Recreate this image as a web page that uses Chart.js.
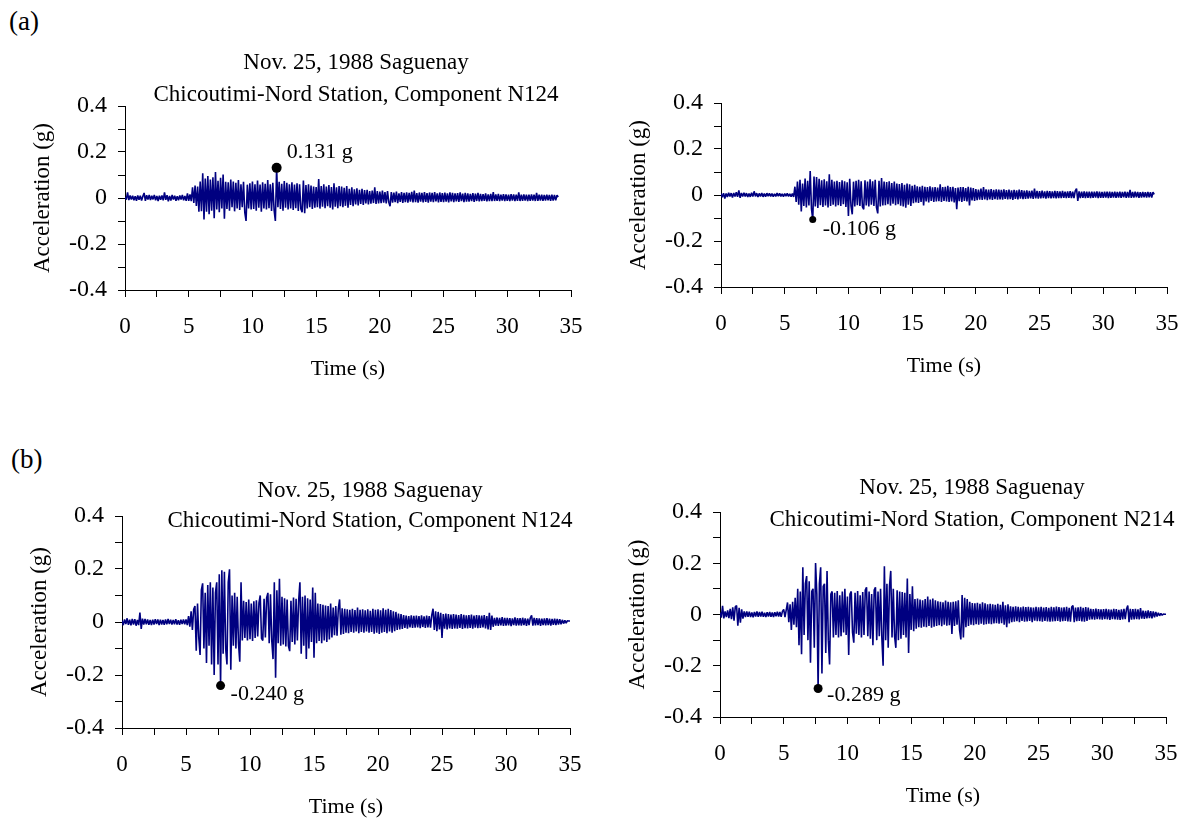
<!DOCTYPE html>
<html>
<head>
<meta charset="utf-8">
<title>Saguenay 1988 – Chicoutimi-Nord accelerograms</title>
<script src="https://cdn.jsdelivr.net/npm/chart.js@4/dist/chart.umd.min.js"></script>
<style>
  html, body { margin: 0; padding: 0; background: #fff; }
  body { width: 1187px; height: 826px; position: relative; overflow: hidden;
         font-family: "Liberation Serif", "Times New Roman", serif; color: #000; }
  canvas { position: absolute; }
  .tag { position: absolute; font-size: 27px; line-height: 27px; }
</style>
</head>
<body>
<div class="tag" style="left:9px; top:8px;">(a)</div>
<div class="tag" style="left:11px; top:446px;">(b)</div>
<canvas id="chartA1" width="593" height="400" style="left:0; top:0;"></canvas>
<canvas id="chartA2" width="594" height="400" style="left:593px; top:0;"></canvas>
<canvas id="chartB1" width="593" height="426" style="left:0; top:400px;"></canvas>
<canvas id="chartB2" width="594" height="426" style="left:593px; top:400px;"></canvas>
<script>
// Sampling interval of the digitised records (s)
const SAMPLE_STEP = 0.1;

// Axis tick labels
const X_LABELS = [0, 5, 10, 15, 20, 25, 30, 35];
const Y_LABELS = [-0.4, -0.2, 0, 0.2, 0.4];

// Panel titles
const EVENT_NAME = 'Nov. 25, 1988 Saguenay';
const STATION_N124 = 'Chicoutimi-Nord Station, Component N124';
const STATION_N214 = 'Chicoutimi-Nord Station, Component N214';

// (a) Component N124 – acceleration (g), one row per second
const accelA_N124 = [
  .004,-.007,.024,-.009,.011,-.006,.010,-.010,.008,-.012,
  .011,-.008,.010,-.011,.007,.022,-.012,.012,-.007,.013,
  -.009,.010,-.006,.013,-.010,.009,-.013,.010,-.008,.011,
  -.010,.024,-.008,.012,-.014,.009,-.011,.013,-.007,.010,
  -.012,.008,-.010,.011,-.007,.013,-.010,.009,-.012,.020,
  -.012,.016,-.014,.046,-.022,.054,-.035,.050,-.060,.072,
  -.058,.108,-.093,.085,-.060,.096,-.070,.080,-.055,.090,
  -.088,.113,-.050,.075,-.062,.088,-.045,.102,-.090,.070,
  -.048,.068,-.055,.080,-.040,.072,-.058,.066,-.045,.078,
  -.052,.060,-.040,.070,-.062,-.100,.058,-.045,.064,-.050,
  .072,-.048,.060,-.055,.076,-.042,.058,-.060,.068,-.046,
  .062,-.050,.078,-.044,.060,-.056,.066,-.052,-.100,.131,
  -.040,.070,-.048,.062,-.055,.074,-.042,.066,-.050,.060,
  -.046,.068,-.052,.058,-.044,.064,-.056,.060,-.048,-.062,
  .076,-.066,.056,-.045,.060,-.040,.054,-.048,.050,-.042,
  .048,-.040,.082,-.046,.052,-.038,.060,-.044,.050,-.036,
  .056,-.042,.048,-.050,.064,-.038,.046,-.044,.052,-.036,
  .050,-.040,.044,-.034,.052,-.042,.040,-.030,.046,-.036,
  .038,-.028,.042,-.032,.036,-.026,.040,-.030,.034,-.024,
  .036,-.028,.030,-.025,.032,-.022,.046,-.026,.030,-.024,
  .028,-.022,.032,-.020,.026,-.024,.030,-.018,-.036,.026,
  -.020,.024,-.018,.028,-.022,.020,-.017,.026,-.021,.022,
  -.018,.025,-.020,.022,-.016,.027,-.019,.032,-.018,.021,
  -.020,.024,-.016,.022,-.019,.026,-.017,.021,-.020,.024,
  -.016,.022,-.018,.026,-.015,.020,-.019,.024,-.017,.021,
  -.018,.023,-.016,.020,-.019,.025,-.015,.022,-.018,.020,
  -.015,.021,-.017,.024,-.014,.019,-.018,.022,-.016,.020,
  -.016,.018,-.014,.021,-.017,.019,-.013,.022,-.015,.018,
  -.014,.017,-.012,.020,-.015,.016,-.013,.018,-.014,.026,
  -.013,.016,-.012,.018,-.014,.015,-.011,.017,-.013,.016,
  -.012,.015,-.014,.017,-.011,.016,-.013,.015,-.012,.024,
  -.013,.014,-.012,.016,-.011,.015,-.013,.014,-.012,.016,
  -.011,.014,-.013,.022,-.012,.015,-.011,.014,-.012,.013,
  -.011,.014,-.010,.013,-.012,.015,-.011,.013,-.010,.012,
  .004
];

// (a) Component N214 – acceleration (g)
const accelA_N214 = [
  .006,-.010,.008,-.015,.007,-.009,.010,-.006,.008,-.011,
  .009,-.007,.012,-.008,.020,-.012,.009,-.007,.010,-.006,
  .008,-.009,.006,-.008,.010,-.007,.016,-.006,.008,-.009,
  .007,-.006,.009,-.008,.006,-.007,.008,-.005,.007,-.006,
  .006,-.007,.005,-.006,.008,-.005,.007,-.006,.005,-.007,
  .006,-.005,.007,-.006,.005,-.007,.006,-.008,.036,-.030,
  .058,-.042,.066,-.072,.050,-.048,.072,-.054,.062,-.046,
  .104,-.060,-.106,.080,-.050,.078,-.056,.070,-.044,.064,
  -.052,.068,-.046,.060,-.054,.090,-.048,.066,-.042,.058,
  -.050,.062,-.044,.056,-.048,.064,-.040,.060,-.052,.055,
  -.091,.070,-.046,-.084,.058,-.050,.062,-.044,.066,-.048,
  .060,-.052,-.062,.064,-.046,.058,-.050,.068,-.042,.060,
  -.048,.066,-.054,-.080,.062,-.050,.074,-.046,.058,-.044,
  .056,-.040,.060,-.046,.052,-.038,.058,-.044,.050,-.040,
  .048,-.046,.052,-.050,.044,-.055,.050,-.042,.046,-.048,
  .040,-.036,.044,-.032,.038,-.034,.036,-.030,.040,-.045,
  .036,-.028,.034,-.032,.038,-.026,.033,-.030,.035,-.028,
  .032,-.027,.046,-.030,.034,-.026,.036,-.028,.040,-.030,
  .034,-.028,.036,-.032,.030,-.062,.032,-.027,.035,-.030,
  .034,-.026,.030,-.028,.036,-.045,.032,-.024,.030,-.026,
  .026,-.022,.024,-.020,.028,-.021,.034,-.019,.025,-.022,
  .023,-.019,.026,-.021,.022,-.018,.025,-.020,.023,-.019,
  .022,-.020,.025,-.017,.021,-.019,.024,-.018,.020,-.021,
  .022,-.017,.020,-.019,.023,-.016,.021,-.018,.019,-.017,
  .020,-.016,.018,-.015,.019,-.017,.028,-.015,.018,-.016,
  .017,-.015,.019,-.014,.016,-.016,.018,-.013,.017,-.015,
  .016,-.014,.018,-.015,.017,-.013,.016,-.014,.018,-.012,
  .015,-.013,.016,-.012,.017,-.014,.015,-.013,.018,.028,
  -.026,.016,-.013,.015,-.012,.016,-.014,.015,-.012,.014,
  -.013,.015,-.012,.014,-.011,.016,-.013,.014,-.012,.013,
  -.012,.014,-.011,.015,-.013,.014,-.012,.013,-.011,.014,
  -.012,.013,-.011,.014,-.012,.013,-.010,.014,-.012,.013,
  -.011,.022,-.012,.013,-.011,.014,-.010,.013,-.012,.012,
  -.011,.013,-.010,.012,-.011,.013,-.010,.012,-.011,.012,
  .003
];

// (b) Component N124 – acceleration (g)
const accelB_N124 = [
  .006,-.012,.010,-.008,.014,-.011,.009,-.013,.012,-.010,
  .011,-.014,.008,-.012,.036,-.026,.013,-.010,.012,-.009,
  .010,-.011,.008,-.012,.009,-.010,.011,-.008,.010,-.012,
  .009,-.010,.008,-.011,.010,-.009,.012,-.008,.009,-.010,
  .008,-.009,.011,-.010,.007,-.011,.009,-.008,.010,-.009,
  .010,-.012,.022,-.018,.040,-.030,.048,.060,-.108,.070,
  -.060,-.124,.120,.146,-.100,.110,-.155,.140,-.090,.150,
  -.160,.130,-.200,.110,.150,-.160,.180,-.240,.195,-.120,
  .190,-.100,-.160,.150,.199,-.180,.100,-.090,.110,-.100,
  .095,-.080,-.150,.150,-.070,.080,-.060,.075,-.070,.085,
  -.065,.070,-.072,.078,-.060,.082,-.055,.072,.100,-.062,
  -.070,.088,-.058,.092,.110,-.080,.105,-.070,-.140,.150,
  -.210,.120,-.080,.163,-.090,.095,-.085,.090,-.092,.085,
  -.090,-.110,.080,-.075,.092,-.085,.088,-.070,.080,.150,
  -.120,.095,-.090,.100,-.140,.090,-.100,.085,-.075,.130,
  -.135,.110,-.080,.070,-.072,.068,-.080,.065,-.070,.062,
  -.075,.060,-.066,.070,-.058,.055,-.050,.060,-.052,.050,
  .085,-.048,.052,-.045,.050,-.040,.048,-.042,.046,-.038,
  .050,-.040,.045,-.036,.055,-.042,.046,-.038,.048,-.040,
  .044,-.036,.048,-.040,.042,-.038,.050,-.044,.046,-.040,
  .048,-.045,.044,-.040,.052,-.038,.046,-.042,.050,-.036,
  .045,-.040,.040,-.035,.038,-.030,.032,-.028,.030,-.026,
  .026,-.022,.024,-.025,.022,-.020,.025,-.022,.023,-.021,
  .024,-.020,.022,-.023,.025,-.019,.021,-.022,.024,-.020,
  .022,-.021,.026,.050,-.030,.040,-.035,.038,-.028,.035,
  -.060,.030,-.025,.032,-.028,.030,-.024,.028,-.026,.030,
  -.024,.028,-.025,.026,-.022,.030,-.026,.027,-.023,.025,
  -.024,.026,-.022,.028,-.025,.024,-.021,.026,-.023,.025,
  -.022,.024,-.020,.026,-.024,.022,-.028,.035,-.030,.024,
  -.018,.016,-.014,.017,-.015,.016,-.013,.018,-.015,.016,
  -.014,.016,-.013,.015,-.016,.014,-.012,.017,-.014,.015,
  -.013,.015,-.014,.016,-.012,.014,-.015,.013,-.012,.016,
  .025,-.014,.016,-.013,.015,-.012,.014,-.015,.013,-.012,
  .014,-.013,.015,-.012,.013,-.014,.012,-.011,.013,-.012,
  .012,-.010,.011,-.009,.008,-.006,.006,-.004,.005,.004,
  .004
];

// (b) Component N214 – acceleration (g)
const accelB_N214 = [
  .008,-.012,.034,-.015,.012,-.010,.016,-.014,.022,-.018,
  .028,-.024,.030,.035,-.044,.026,-.032,.020,-.016,.012,
  -.010,.012,-.009,.011,-.010,.008,-.011,.010,-.008,.012,
  -.009,.010,-.008,.011,-.009,.007,-.010,.009,-.008,.010,
  -.009,.008,-.010,.009,-.007,.011,-.008,.010,-.009,.012,
  .020,-.010,.018,.047,-.030,.040,-.060,.050,-.040,.065,
  -.050,.100,-.120,.090,-.155,.184,-.080,.120,.150,-.100,
  .130,-.188,.090,.100,-.130,.201,.080,-.289,.120,.184,
  -.230,.110,.120,-.150,.170,-.100,-.195,.080,.090,-.090,
  .085,-.080,.092,-.090,.075,-.085,.090,-.070,.100,-.080,
  .070,-.158,.080,.090,-.070,-.110,.085,-.075,.092,-.080,
  .075,-.090,.088,-.080,.095,.106,-.085,.090,-.095,.080,
  -.120,.095,.106,-.100,.090,-.085,.100,-.090,-.200,.188,
  -.100,.120,-.130,.110,.170,-.090,.100,-.085,-.130,.095,
  -.100,.090,-.095,.088,-.080,.085,-.090,.140,-.150,.080,
  -.060,.110,-.065,.060,-.055,.062,-.050,.058,-.052,.055,
  -.048,.060,-.050,.070,-.045,.058,-.052,.062,-.048,.055,
  -.045,.052,-.042,.050,-.046,.048,-.040,.054,-.044,.050,
  -.042,.048,-.076,.050,-.045,.052,-.040,.055,-.060,-.097,
  .076,-.090,.065,-.050,.060,-.045,.050,-.040,.045,-.042,
  .044,-.038,.046,-.040,.042,-.036,.048,-.040,.044,-.038,
  .040,-.036,.042,-.038,.040,-.035,.038,-.034,.042,-.036,
  .038,-.034,.050,-.040,.036,-.050,.040,-.035,.032,-.030,
  .030,-.028,.032,-.026,.030,-.030,.028,-.025,.031,-.028,
  .029,-.027,.030,-.025,.028,-.030,.027,-.024,.030,-.026,
  .028,-.026,.030,-.028,.027,-.025,.029,-.027,.026,-.028,
  .030,-.027,.028,-.026,.031,-.025,.029,-.028,.027,-.026,
  .028,-.025,.030,-.027,.026,-.028,.029,.035,-.030,.027,
  -.026,.028,-.025,.030,-.027,.026,-.028,.029,-.025,.027,
  -.020,.022,-.019,.021,-.020,.023,-.018,.021,-.019,.020,
  -.020,.021,-.018,.022,-.019,.020,-.021,.019,-.018,.022,
  -.019,.021,-.020,.018,-.021,.020,-.019,.022,-.018,.021,
  .035,-.030,.022,-.020,.021,-.019,.022,-.018,.020,-.019,
  .025,-.016,.015,-.017,.014,-.015,.016,-.014,.013,-.015,
  .012,-.011,.010,-.008,.007,-.005,.004,-.003,.002,.001,
  .001
];

const TRACE_COLOR = '#000080';
const SERIF = '"Liberation Serif", "Times New Roman", serif';

// Convert a sampled record into {x: time, y: acceleration} points
function toPoints(series) {
  return series.map((g, i) => ({ x: Math.round(i * SAMPLE_STEP * 10) / 10, y: g }));
}

// Sample with the largest absolute acceleration (the PGA)
function peakOf(series) {
  let k = 0;
  series.forEach((g, i) => { if (Math.abs(g) > Math.abs(series[k])) k = i; });
  return { x: Math.round(k * SAMPLE_STEP * 10) / 10, y: series[k] };
}

function buildChart(id, series, cfg) {
  const canvas = document.getElementById(id);
  const W = canvas.width, H = canvas.height;
  const area = cfg.area;
  const peak = peakOf(series);

  // Titles, axis captions and the PGA annotation
  const annotate = {
    id: 'annotate',
    afterDraw(chart) {
      const ctx = chart.ctx, ca = chart.chartArea;
      ctx.save();
      ctx.fillStyle = '#000';
      ctx.textAlign = 'center';
      ctx.textBaseline = 'alphabetic';
      ctx.font = '23px ' + SERIF;
      cfg.title.forEach(line => ctx.fillText(line.text, cfg.titleX, line.y));

      ctx.textBaseline = 'middle';
      ctx.font = '22px ' + SERIF;
      ctx.fillText('Time (s)', (ca.left + ca.right) / 2, ca.bottom + 79);

      ctx.save();
      ctx.translate(ca.left - 82, (ca.top + ca.bottom) / 2);
      ctx.rotate(-Math.PI / 2);
      ctx.font = '23px ' + SERIF;
      ctx.fillText('Acceleration (g)', 0, 0);
      ctx.restore();

      const dot = chart.getDatasetMeta(1).data[0];
      ctx.textAlign = 'left';
      ctx.font = '22px ' + SERIF;
      ctx.fillText(peak.y.toFixed(3) + ' g', dot.x + cfg.labelDx, dot.y + cfg.labelDy);
      ctx.restore();
    }
  };

  return new Chart(canvas, {
    type: 'scatter',
    data: {
      datasets: [
        {
          data: toPoints(series),
          showLine: true,
          borderColor: TRACE_COLOR,
          borderWidth: 1.6,
          borderJoinStyle: 'bevel',
          pointRadius: 0,
          pointHoverRadius: 0,
          tension: 0,
          fill: false,
          order: 2
        },
        {
          data: [peak],
          showLine: false,
          pointRadius: cfg.dotRadius,
          pointHoverRadius: cfg.dotRadius,
          pointBackgroundColor: '#000',
          pointBorderColor: '#000',
          pointBorderWidth: 0,
          order: 1
        }
      ]
    },
    options: {
      responsive: false,
      animation: false,
      devicePixelRatio: 1,
      events: [],
      parsing: false,
      layout: { padding: { left: 0, top: area.top, right: W - area.right, bottom: 0 } },
      plugins: {
        legend: { display: false },
        tooltip: { enabled: false },
        title: { display: false }
      },
      scales: {
        x: {
          type: 'linear',
          position: 'bottom',
          min: 0,
          max: 35,
          afterFit(s) { s.height = H - area.bottom; s.paddingLeft = 0; s.paddingRight = 0; },
          ticks: {
            stepSize: 2.5,
            autoSkip: false,
            maxRotation: 0,
            minRotation: 0,
            padding: 16,
            color: '#000',
            font: { family: SERIF, size: 23 },
            callback: v => (X_LABELS.includes(v) ? String(v) : '')
          },
          grid: { drawOnChartArea: false, drawTicks: true, tickLength: 7, tickColor: '#000', tickWidth: 1 },
          border: { display: true, color: '#000', width: 1 }
        },
        y: {
          type: 'linear',
          position: 'left',
          min: -0.4,
          max: 0.4,
          afterFit(s) { s.width = area.left; s.paddingTop = 0; s.paddingBottom = 0; },
          ticks: {
            stepSize: 0.1,
            autoSkip: false,
            padding: 11,
            color: '#000',
            font: { family: SERIF, size: 24 },
            callback: v => {
              const hit = Y_LABELS.find(l => Math.abs(l - v) < 1e-9);
              return hit === undefined ? '' : String(hit);
            }
          },
          grid: { drawOnChartArea: false, drawTicks: true, tickLength: 7, tickColor: '#000', tickWidth: 1 },
          border: { display: true, color: '#000', width: 1 }
        }
      }
    },
    plugins: [annotate]
  });
}

buildChart('chartA1', accelA_N124, {
  area: { left: 125, top: 106, right: 571, bottom: 290 },
  title: [{ text: EVENT_NAME, y: 69 }, { text: STATION_N124, y: 100.5 }],
  titleX: 356,
  dotRadius: 5, labelDx: 10, labelDy: -16
});

buildChart('chartA2', accelA_N214, {
  area: { left: 128, top: 103, right: 574, bottom: 287 },
  title: [],
  titleX: 0,
  dotRadius: 3.5, labelDx: 10, labelDy: 10
});

buildChart('chartB1', accelB_N124, {
  area: { left: 122, top: 116, right: 570, bottom: 328 },
  title: [{ text: EVENT_NAME, y: 96.5 }, { text: STATION_N124, y: 126.5 }],
  titleX: 370,
  dotRadius: 4.5, labelDx: 10, labelDy: 9
});

buildChart('chartB2', accelB_N214, {
  area: { left: 127, top: 112, right: 573, bottom: 317 },
  title: [{ text: EVENT_NAME, y: 94 }, { text: STATION_N214, y: 126 }],
  titleX: 379,
  dotRadius: 4.5, labelDx: 9, labelDy: 7
});
</script>
</body>
</html>
